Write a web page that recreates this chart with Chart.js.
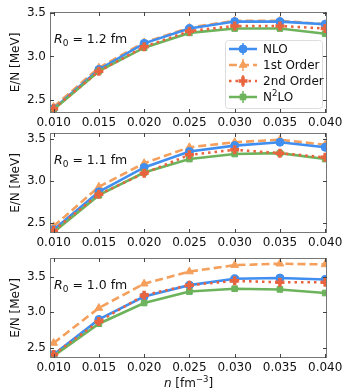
<!DOCTYPE html>
<html>
<head>
<meta charset="utf-8">
<script src="https://cdn.jsdelivr.net/npm/chart.js@4.4.0/dist/chart.umd.min.js"></script>
<style>
  html, body { margin: 0; padding: 0; background: #fff; }
  #wrap { position: relative; width: 342px; height: 392px; }
  .panel { position: absolute; left: 0; width: 342px; }
</style>
</head>
<body>
<div id="wrap">
  <div class="panel" style="top:0;height:130px"><canvas id="c1"></canvas></div>
  <div class="panel" style="top:125px;height:125px"><canvas id="c2"></canvas></div>
  <div class="panel" style="top:250px;height:142px"><canvas id="c3"></canvas></div>
</div>
<script>
// densidades n [fm^-3]
const densities = [0.010, 0.015, 0.020, 0.025, 0.030, 0.035, 0.040];
const xTicks = [0.010, 0.015, 0.020, 0.025, 0.030, 0.035, 0.040];
const yTicks = [2.5, 3.0, 3.5];
const seriesNames = ["NLO", "1st Order", "2nd Order", "N\u00b2LO"];

// R0 = 1.2 fm
const nlo12 = [2.40, 2.85, 3.15, 3.32, 3.40, 3.40, 3.37];
const first12 = [2.42, 2.87, 3.16, 3.33, 3.41, 3.41, 3.37];
const second12 = [2.40, 2.83, 3.11, 3.29, 3.35, 3.35, 3.32];
const n2lo12 = [2.39, 2.83, 3.10, 3.27, 3.32, 3.32, 3.26];

// R0 = 1.1 fm
const nlo11 = [2.42, 2.87, 3.16, 3.35, 3.42, 3.46, 3.40];
const first11 = [2.46, 2.93, 3.21, 3.40, 3.46, 3.49, 3.43];
const second11 = [2.41, 2.84, 3.09, 3.31, 3.37, 3.33, 3.28];
const n2lo11 = [2.39, 2.83, 3.10, 3.26, 3.32, 3.33, 3.26];

// R0 = 1.0 fm
const nlo10 = [2.41, 2.90, 3.22, 3.38, 3.47, 3.48, 3.46];
const first10 = [2.57, 3.06, 3.40, 3.57, 3.66, 3.68, 3.67];
const second10 = [2.41, 2.87, 3.24, 3.38, 3.44, 3.42, 3.42];
const n2lo10 = [2.39, 2.84, 3.13, 3.29, 3.33, 3.32, 3.27];

const styles = [
  { color: "#3f8ef0", dash: [], marker: "circle", radius: 4, order: 3 },
  { color: "#f4a05c", dash: [8, 4], marker: "triangle", radius: 4.5, order: 4 },
  { color: "#e8633e", dash: [2.5, 4], marker: "crossRot", radius: 4.5, order: 1, rot: 45 },
  { color: "#6cb35c", dash: [], marker: "rect", radius: 4, order: 2 },
];

const font = "DejaVu Sans, sans-serif";
const frameColor = "#777";

function makeDatasets(arrays) {
  return arrays.map((vals, i) => {
    const s = styles[i];
    return {
      label: seriesNames[i],
      data: densities.map((x, k) => ({ x: x, y: vals[k] })),
      borderColor: s.color,
      backgroundColor: s.color,
      borderWidth: 2.6,
      borderDash: s.dash,
      pointStyle: s.marker,
      pointRadius: s.radius,
      pointBorderWidth: s.marker === "crossRot" ? 3.5 : 1,
      pointRotation: s.rot || 0,
      order: s.order,
      tension: 0,
      fill: false,
    };
  });
}

// ticks hacia adentro en los 4 lados + marco
const frameTicks = {
  id: "frameTicks",
  afterDraw(chart) {
    const { ctx, chartArea: a, scales } = chart;
    ctx.save();
    ctx.strokeStyle = frameColor;
    ctx.lineWidth = 1;
    ctx.strokeRect(a.left + 0.5, a.top + 0.5, a.width - 1, a.height - 1);
    ctx.strokeStyle = "#444";
    xTicks.forEach((t) => {
      const x = Math.round(scales.x.getPixelForValue(t)) + 0.5;
      ctx.beginPath();
      ctx.moveTo(x, a.bottom); ctx.lineTo(x, a.bottom - 4);
      ctx.moveTo(x, a.top); ctx.lineTo(x, a.top + 4);
      ctx.stroke();
    });
    yTicks.forEach((t) => {
      const y = Math.round(scales.y.getPixelForValue(t)) + 0.5;
      if (y < a.top || y > a.bottom) return;
      ctx.beginPath();
      ctx.moveTo(a.left, y); ctx.lineTo(a.left + 4, y);
      ctx.moveTo(a.right, y); ctx.lineTo(a.right - 4, y);
      ctx.stroke();
    });
    ctx.restore();
  },
};

// etiqueta R0 = ... fm
const r0Label = {
  id: "r0Label",
  afterDatasetsDraw(chart, args, opts) {
    const { ctx, chartArea: a } = chart;
    const x = a.left + 4, y = a.top + 31;
    ctx.save();
    ctx.fillStyle = "#111";
    ctx.textBaseline = "alphabetic";
    ctx.font = "italic 12.5px " + font;
    ctx.fillText("R", x, y);
    let w = ctx.measureText("R").width;
    ctx.font = "9px " + font;
    ctx.fillText("0", x + w, y + 3);
    w += ctx.measureText("0").width;
    ctx.font = "12.5px " + font;
    ctx.fillText(" = " + opts.text + " fm", x + w, y);
    ctx.restore();
  },
};

// leyenda dentro del primer panel
const legendBox = {
  id: "legendBox",
  afterDraw(chart, args, opts) {
    if (!opts.show) return;
    const { ctx } = chart;
    const bx = 225, by = 40, bw = 97, bh = 68;
    ctx.save();
    ctx.fillStyle = "rgba(255,255,255,0.85)";
    ctx.strokeStyle = "#ddd";
    ctx.lineWidth = 1;
    ctx.beginPath();
    ctx.roundRect(bx + 0.5, by + 0.5, bw, bh, 3);
    ctx.fill();
    ctx.stroke();
    chart.data.datasets.forEach((ds, i) => {
      const y = by + 9 + i * 16;
      ctx.strokeStyle = ds.borderColor;
      ctx.lineWidth = 2.5;
      ctx.setLineDash(ds.borderDash);
      ctx.beginPath();
      ctx.moveTo(bx + 4, y); ctx.lineTo(bx + 32, y);
      ctx.stroke();
      ctx.setLineDash([]);
      ctx.lineWidth = 1.5;
      ctx.beginPath();
      ctx.moveTo(bx + 18, y - 6); ctx.lineTo(bx + 18, y + 6);
      ctx.stroke();
      ctx.fillStyle = ds.backgroundColor;
      ctx.lineWidth = ds.pointBorderWidth;
      Chart.helpers.drawPoint(ctx, {
        pointStyle: ds.pointStyle, radius: ds.pointRadius, borderWidth: ds.pointBorderWidth, rotation: ds.pointRotation,
      }, bx + 18, y);
      ctx.fillStyle = "#111";
      ctx.font = "12px " + font;
      ctx.textBaseline = "middle";
      if (i === 3) {
        ctx.fillText("N", bx + 38, y + 1);
        const w = ctx.measureText("N").width;
        ctx.font = "8.5px " + font;
        ctx.fillText("2", bx + 38 + w, y - 3);
        const w2 = ctx.measureText("2").width;
        ctx.font = "12px " + font;
        ctx.fillText("LO", bx + 38 + w + w2, y + 1);
      } else {
        ctx.fillText(ds.label, bx + 38, y + 1);
      }
    });
    ctx.restore();
  },
};

// titulo eje x con n cursiva
const xTitle = {
  id: "xTitle",
  afterDraw(chart, args, opts) {
    if (!opts.show) return;
    const { ctx, chartArea: a } = chart;
    const cx = (a.left + a.right) / 2;
    const y = chart.height - 5;
    ctx.save();
    ctx.fillStyle = "#111";
    ctx.font = "italic 12px " + font;
    const p1 = "n", p2 = " [fm", p3 = "\u22123", p4 = "]";
    const w1 = ctx.measureText(p1).width;
    ctx.font = "12px " + font;
    const w2 = ctx.measureText(p2).width;
    const w4 = ctx.measureText(p4).width;
    ctx.font = "8.5px " + font;
    const w3 = ctx.measureText(p3).width;
    let x = cx - (w1 + w2 + w3 + w4) / 2;
    ctx.font = "italic 12px " + font;
    ctx.fillText(p1, x, y); x += w1;
    ctx.font = "12px " + font;
    ctx.fillText(p2, x, y); x += w2;
    ctx.font = "8.5px " + font;
    ctx.fillText(p3, x, y - 5); x += w3;
    ctx.font = "12px " + font;
    ctx.fillText(p4, x, y);
    ctx.restore();
  },
};

function makePanel(id, arrays, r0, ymin, ymax, padTop, xHeight, isTop, isBottom) {
  new Chart(document.getElementById(id), {
    type: "line",
    data: { datasets: makeDatasets(arrays) },
    plugins: [frameTicks, r0Label, legendBox, xTitle],
    options: {
      responsive: true,
      maintainAspectRatio: false,
      animation: false,
      layout: { padding: { top: padTop, right: 15, left: 0, bottom: 0 } },
      plugins: {
        legend: { display: false },
        tooltip: { enabled: false },
        r0Label: { text: r0 },
        legendBox: { show: isTop },
        xTitle: { show: isBottom },
      },
      scales: {
        x: {
          type: "linear",
          min: 0.0096,
          max: 0.0402,
          afterBuildTicks: (s) => { s.ticks = xTicks.map((v) => ({ value: v })); },
          afterFit: (s) => { s.height = xHeight; s.paddingLeft = 0; s.paddingRight = 0; },
          grid: { display: false, drawTicks: false },
          border: { display: false },
          ticks: {
            padding: 3,
            color: "#111",
            font: { family: font, size: 12 },
            maxRotation: 0,
            autoSkip: false,
            callback: (v) => v.toFixed(3),
          },
        },
        y: {
          min: ymin,
          max: ymax,
          afterBuildTicks: (s) => { s.ticks = yTicks.map((v) => ({ value: v })); },
          afterFit: (s) => { s.width = 50; s.paddingTop = 0; s.paddingBottom = 0; },
          grid: { display: false, drawTicks: false },
          border: { display: false },
          title: {
            display: true,
            text: "E/N [MeV]",
            color: "#111",
            font: { family: font, size: 12 },
            padding: { top: 9, bottom: 0 },
          },
          ticks: {
            padding: 4,
            color: "#111",
            font: { family: font, size: 12 },
            callback: (v) => v.toFixed(1),
          },
        },
      },
    },
  });
}

makePanel("c1", [nlo12, first12, second12, n2lo12], "1.2", 2.35, 3.51, 12, 17, true, false);
makePanel("c2", [nlo11, first11, second11, n2lo11], "1.1", 2.38, 3.57, 8, 17, false, false);
makePanel("c3", [nlo10, first10, second10, n2lo10], "1.0", 2.36, 3.76, 7, 34, false, true);
</script>
</body>
</html>
